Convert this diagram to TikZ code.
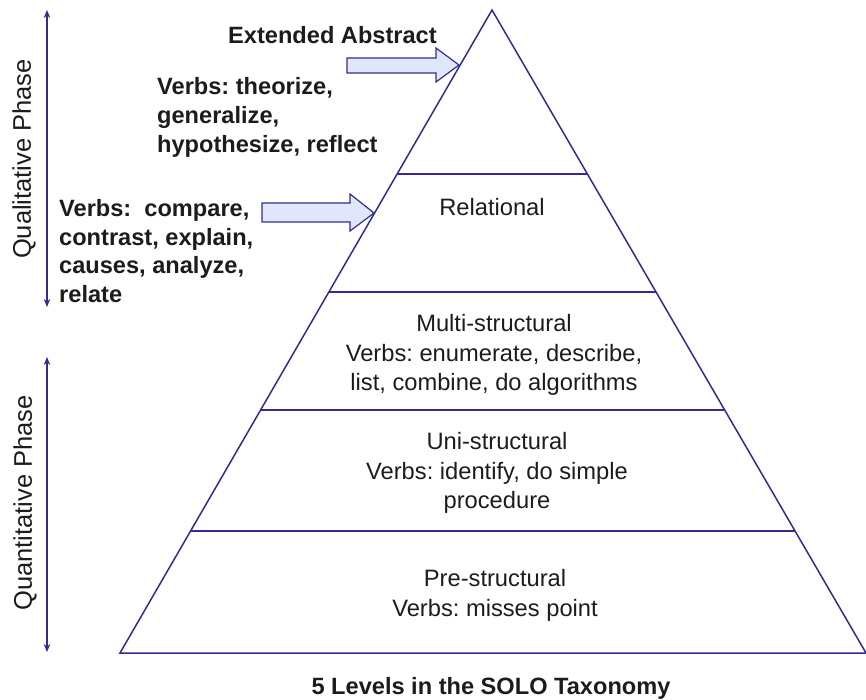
\documentclass[tikz,border=0pt]{standalone}
\usepackage{fontspec}
\setmainfont{Liberation Sans}
\usetikzlibrary{arrows.meta,calc}
\frenchspacing

\definecolor{edgeblue}{RGB}{50,44,145}
\definecolor{ink}{RGB}{28,28,28}
\definecolor{arrowfill}{RGB}{224,231,250}

\begin{document}
\begin{tikzpicture}[x=1pt,y=-1pt,
  edge/.style={draw=edgeblue, line width=1.5pt},
  leveltext/.style={align=center, font=\fontsize{23.7}{29.5}\selectfont, text=ink, inner sep=0pt, anchor=base},
  verbtext/.style={align=left, font=\bfseries\fontsize{23.6}{29}\selectfont, text=ink, inner sep=0pt, anchor=base west},
  phase/.style={font=\fontsize{25.5}{28}\selectfont, text=ink, rotate=90, inner sep=0pt},
  phasearrow/.style={draw=edgeblue, line width=1.4pt, {Stealth[length=8pt,width=6.5pt]}-{Stealth[length=8pt,width=6.5pt]}},
  blockarrow/.style={draw=edgeblue, fill=arrowfill, line width=1.2pt, line join=miter}
]
\useasboundingbox (0,0) rectangle (866,700);

% pyramid outline
\coordinate (apex) at (492,10);
\coordinate (bl) at (120,653);
\coordinate (br) at (866,653);
\draw[edge, line join=miter] (apex) -- (bl) -- (br) -- cycle;

% level boundaries
\foreach \t/\n in {0.2551/a,0.4386/b,0.6221/c,0.8103/d}{
  \coordinate (L\n) at ($(apex)!\t!(bl)$);
  \coordinate (R\n) at ($(apex)!\t!(br)$);
  \draw[edge] (L\n) -- (R\n);
}

% level labels (anchored on the baseline of the last line)
\node[leveltext] (relational) at (492,216) {Relational};
\node[leveltext] (multi) at (494,390.5) {Multi-structural\\Verbs: enumerate, describe,\\list, combine, do algorithms};
\node[leveltext] (uni) at (497,508.5) {Uni-structural\\Verbs: identify, do simple\\procedure};
\node[leveltext] (pre) at (495,616) {Pre-structural\\Verbs: misses point};

% verbs beside the upper levels
\node[verbtext] (extended) at (228,43.5) {Extended Abstract};
\node[verbtext] (extverbs) at (157,152.5) {Verbs: theorize,\\generalize,\\hypothesize, reflect};
\node[verbtext, font=\bfseries\fontsize{23.6}{28.4}\selectfont] (relverbs) at (59,302) {Verbs:\ \ compare,\\contrast, explain,\\causes, analyze,\\relate};

% block arrows pointing at the pyramid
\draw[blockarrow] (347,58) -- (436,58) -- (436,48) -- (459,65) -- (436,82) -- (436,73) -- (347,73) -- cycle;
\draw[blockarrow] (262,203) -- (350,203) -- (350,194) -- (374,213) -- (350,231) -- (350,222) -- (262,222) -- cycle;

% phase arrows
\coordinate (qualtop) at (47,10);
\coordinate (qualbot) at (47,307);
\coordinate (quanttop) at (47,357);
\coordinate (quantbot) at (47,652);
\draw[phasearrow] (qualtop) -- (qualbot);
\draw[phasearrow] (quanttop) -- (quantbot);
\node[phase] (qual) at (24,159) {Qualitative Phase};
\node[phase] (quant) at (25,503) {Quantitative Phase};

% caption
\node[font=\bfseries\fontsize{23.6}{28}\selectfont, text=ink, inner sep=0pt, anchor=base] (caption) at (491,694) {5 Levels in the SOLO Taxonomy};
\end{tikzpicture}
\end{document}
